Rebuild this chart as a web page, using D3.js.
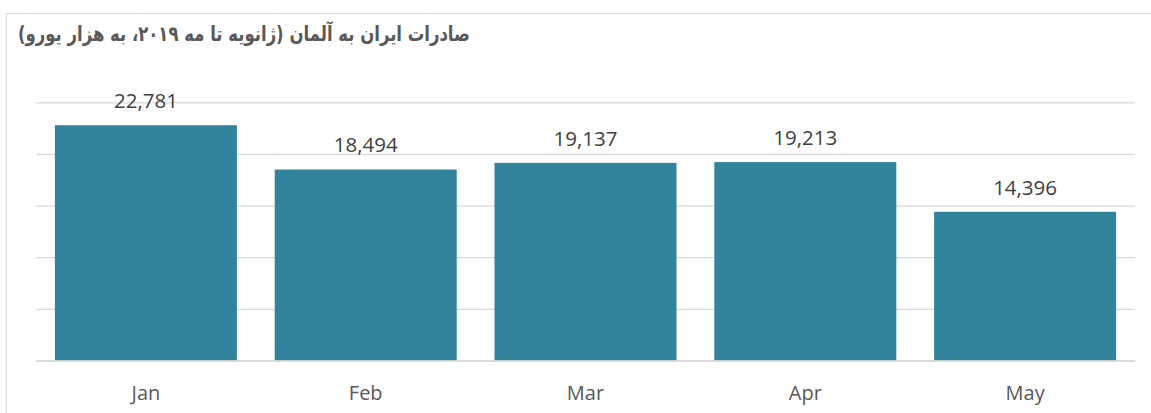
<!DOCTYPE html>
<html>
<head>
<meta charset="utf-8">
<script src="https://cdn.jsdelivr.net/npm/d3@7"></script>
<style>
  html, body { margin: 0; padding: 0; background: #fff; }
  svg { display: block; }
</style>
</head>
<body>
<script>
const categories = ["Jan", "Feb", "Mar", "Apr", "May"];
const values = [22781, 18494, 19137, 19213, 14396];
const yTicks = [0, 5000, 10000, 15000, 20000, 25000];
const titleText = "صادرات ایران به آلمان (ژانویه تا مه ۲۰۱۹، به هزار یورو)";

const W = 1151, H = 413;
const svg = d3.select("body").append("svg").attr("width", W).attr("height", H);

// chart area border
svg.append("rect")
  .attr("x", 6.5).attr("y", 13.5)
  .attr("width", 1200).attr("height", 500)
  .attr("fill", "#fff").attr("stroke", "#d9d9d9").attr("stroke-width", 1);

const x = d3.scaleBand().domain(categories).range([36, 1135])
  .paddingInner(0.172).paddingOuter(0.086);
const y = d3.scaleLinear().domain([0, 25000]).range([360.5, 102.3]);

// gridlines
const grid = svg.append("g").attr("class", "grid")
  .call(d3.axisLeft(y).tickValues(yTicks).tickSize(-(1135 - 36)).tickFormat(""))
  .attr("transform", "translate(36,0)");
grid.select(".domain").remove();
grid.selectAll(".tick line").attr("stroke", "#d9d9d9").attr("stroke-width", 1.3);

// bars
svg.append("g").selectAll("rect").data(values).join("rect")
  .attr("x", (d, i) => x(categories[i]))
  .attr("width", x.bandwidth())
  .attr("y", d => y(d))
  .attr("height", d => y(0) - y(d))
  .attr("fill", "#31849b");

// baseline axis
const xAxis = svg.append("g").attr("transform", `translate(0,${y(0)})`)
  .call(d3.axisBottom(x).tickSize(0).tickPadding(0));
xAxis.select(".domain").attr("stroke", "#d9d9d9").attr("stroke-width", 1.3);
xAxis.selectAll(".tick text")
  .attr("y", 39.5).attr("dy", null)
  .attr("fill", "#595959")
  .style("font-family", "'Open Sans', sans-serif")
  .style("font-size", "20px");

// value labels
const fmt = d3.format(",");
svg.append("g").selectAll("text").data(values).join("text")
  .attr("x", (d, i) => x(categories[i]) + x.bandwidth() / 2)
  .attr("y", d => y(d) - 17)
  .attr("text-anchor", "middle")
  .attr("fill", "#404040")
  .style("font-family", "'Open Sans', sans-serif")
  .style("font-size", "20.5px")
  .text(d => fmt(d));

// title
const title = svg.append("text")
  .attr("x", 470).attr("y", 41)
  .attr("direction", "rtl")
  .attr("text-anchor", "start")
  .attr("fill", "#595959")
  .style("font-family", "'DejaVu Sans Condensed', 'DejaVu Sans', sans-serif")
  .style("font-weight", "bold")
  .style("font-size", "21px")
  .text(titleText);
const tl = title.node().getComputedTextLength();
if (tl > 452) {
  title.attr("textLength", 452).attr("lengthAdjust", "spacingAndGlyphs");
}
</script>
</body>
</html>
